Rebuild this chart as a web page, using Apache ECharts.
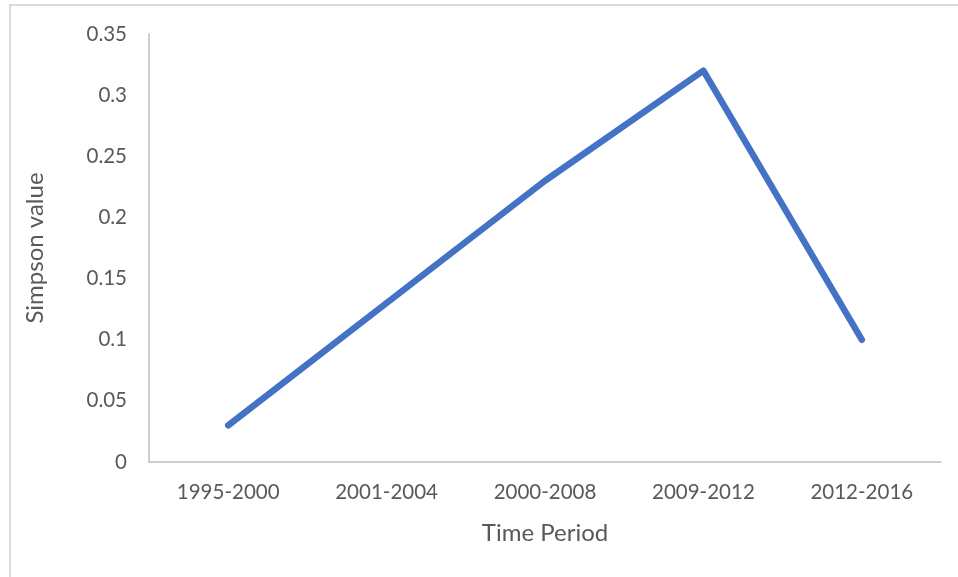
<!DOCTYPE html>
<html>
<head>
<meta charset="utf-8">
<script src="https://cdn.jsdelivr.net/npm/echarts@6/dist/echarts.min.js"></script>
<style>
  html, body { margin: 0; padding: 0; background: #fff; }
  #chart { width: 958px; height: 577px; }
</style>
</head>
<body>
<div id="chart"></div>
<script>
// Simpson diversity value by time period
const periods = ['1995-2000', '2001-2004', '2000-2008', '2009-2012', '2012-2016'];
const simpsonValues = [0.03, 0.13, 0.23, 0.32, 0.10];

const textColor = '#595959';
const axisColor = '#bfbfbf';
const fontFamily = 'Lato, "Open Sans", sans-serif';

const chart = echarts.init(document.getElementById('chart'));
chart.setOption({
  animation: false,
  backgroundColor: '#ffffff',
  graphic: [{
    type: 'rect',
    shape: { x: 10, y: 5, width: 960, height: 600 },
    style: { fill: 'none', stroke: '#d9d9d9', lineWidth: 2 },
    silent: true
  }],
  grid: { left: 149, right: 17, top: 34, bottom: 115 },
  xAxis: {
    type: 'category',
    data: periods,
    boundaryGap: true,
    name: 'Time Period',
    nameLocation: 'middle',
    nameGap: 59,
    nameTextStyle: { color: textColor, fontSize: 24, fontFamily },
    axisLine: { lineStyle: { color: axisColor, width: 1.5 } },
    axisTick: { show: false },
    axisLabel: { color: textColor, fontSize: 20.5, fontFamily, margin: 20 },
    splitLine: { show: false }
  },
  yAxis: {
    type: 'value',
    min: 0,
    max: 0.35,
    interval: 0.05,
    name: 'Simpson value',
    nameLocation: 'middle',
    nameGap: 102,
    nameTextStyle: { color: textColor, fontSize: 24, fontFamily },
    axisLine: { show: true, lineStyle: { color: axisColor, width: 1.5 } },
    axisTick: { show: false },
    axisLabel: {
      color: textColor, fontSize: 20.5, fontFamily, margin: 22,
      formatter: v => String(parseFloat(v.toFixed(2)))
    },
    splitLine: { show: false }
  },
  series: [{
    type: 'line',
    data: simpsonValues,
    symbol: 'none',
    lineStyle: { color: '#4472C4', width: 6.5, cap: 'round', join: 'round' }
  }]
});
</script>
</body>
</html>
